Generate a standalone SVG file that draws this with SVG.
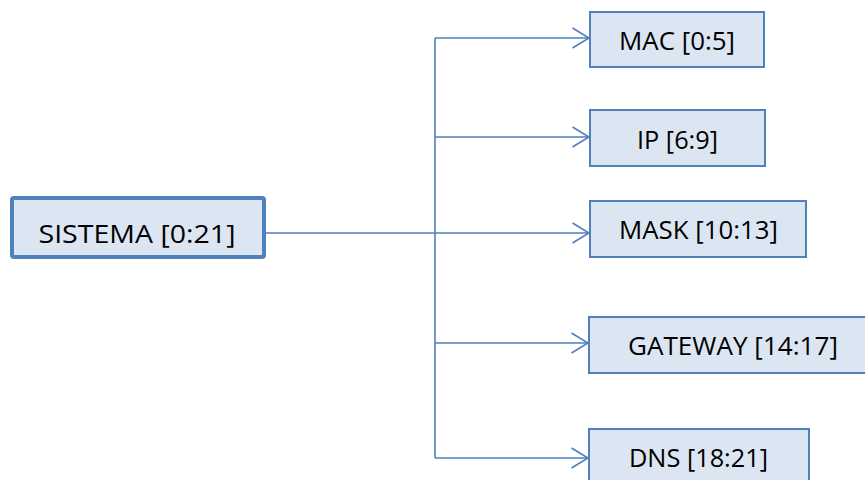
<svg xmlns="http://www.w3.org/2000/svg" width="865" height="480" viewBox="0 0 865 480">
  <style>
    .box { fill: #DCE6F2; stroke: #4F81BD; stroke-width: 2; }
    .root { fill: #DCE6F2; stroke: #4F81BD; stroke-width: 4; }
    .label { font-family: "Open Sans", "Liberation Sans", sans-serif; font-size: 25.5px; fill: #000; text-anchor: middle; }
    .wire { fill: none; stroke: #4F81BD; stroke-width: 1.6; }
  </style>
  <defs>
    <marker id="chevron" markerUnits="userSpaceOnUse" viewBox="0 0 19 22" refX="17.5" refY="11" markerWidth="19" markerHeight="22" orient="auto">
      <path d="M1,1 L17.5,11 L1,21" fill="none" stroke="#4F81BD" stroke-width="1.6"/>
    </marker>
  </defs>
  <rect width="865" height="480" fill="#fff"/>

  <g id="connectors">
    <path class="wire" d="M266,233 H435"/>
    <path class="wire" d="M435,38 V458"/>
    <path class="wire" d="M435,38 H589" marker-end="url(#chevron)"/>
    <path class="wire" d="M435,137 H589" marker-end="url(#chevron)"/>
    <path class="wire" d="M435,233 H589" marker-end="url(#chevron)"/>
    <path class="wire" d="M435,343 H588" marker-end="url(#chevron)"/>
    <path class="wire" d="M435,458 H588" marker-end="url(#chevron)"/>
  </g>

  <g id="sistema">
    <rect class="root" x="12" y="198" width="252" height="59" rx="2"/>
    <text class="label" x="137" y="243" textLength="197" lengthAdjust="spacingAndGlyphs">SISTEMA [0:21]</text>
  </g>

  <g id="mac">
    <rect class="box" x="590" y="12" width="174" height="55"/>
    <text class="label" x="677" y="50" textLength="116" lengthAdjust="spacingAndGlyphs">MAC [0:5]</text>
  </g>

  <g id="ip">
    <rect class="box" x="590" y="110" width="175" height="56"/>
    <text class="label" x="677.5" y="149" textLength="81" lengthAdjust="spacingAndGlyphs">IP [6:9]</text>
  </g>

  <g id="mask">
    <rect class="box" x="590" y="201" width="216" height="56"/>
    <text class="label" x="698.5" y="239" textLength="159" lengthAdjust="spacingAndGlyphs">MASK [10:13]</text>
  </g>

  <g id="gateway">
    <rect class="box" x="589" y="317" width="288" height="56"/>
    <text class="label" x="733" y="355" textLength="210" lengthAdjust="spacingAndGlyphs">GATEWAY [14:17]</text>
  </g>

  <g id="dns">
    <rect class="box" x="589" y="429" width="220" height="56"/>
    <text class="label" x="698.5" y="467" textLength="139" lengthAdjust="spacingAndGlyphs">DNS [18:21]</text>
  </g>
</svg>
